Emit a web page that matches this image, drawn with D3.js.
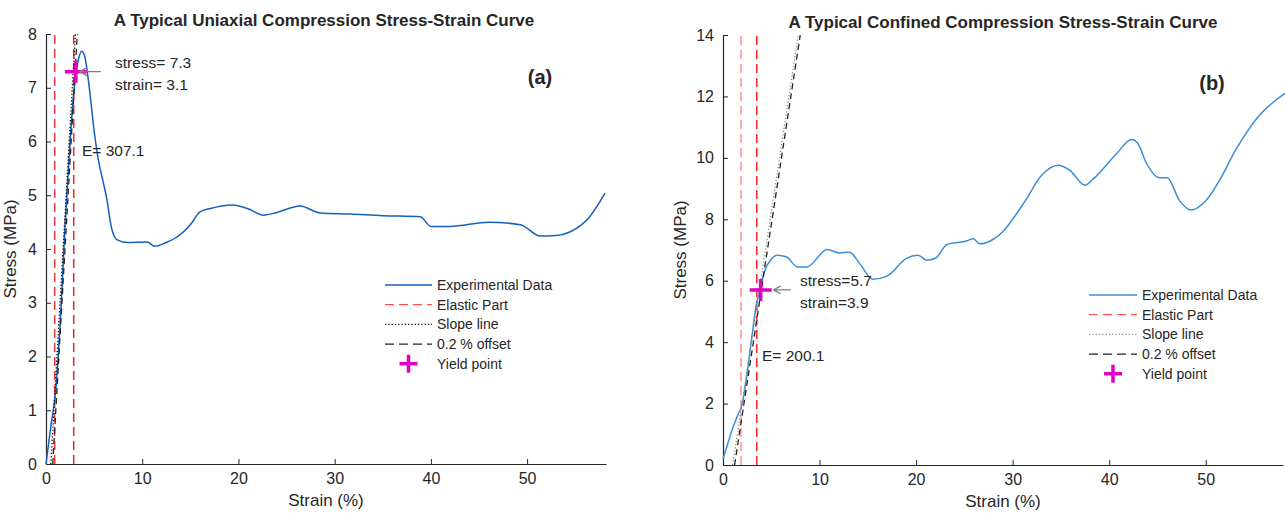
<!DOCTYPE html>
<html lang="en">
<head>
    <meta charset="UTF-8">
    <title>Stress-Strain Curves</title>
    <script src="https://cdn.jsdelivr.net/npm/d3@7"></script>
    <style>
        body { margin: 0; background: #fff; }
        text { font-family: "Liberation Sans", Arial, sans-serif; fill: #262626; }
    </style>
</head>
<body>
<script type="text/javascript">
    var width = 1285;
    var height = 514;

    // panel (a) - uniaxial
    var strainA = [0, 0.5, 1.0, 1.5, 2.0, 2.5, 3.0, 3.4, 3.7, 4.0, 4.5, 5.0, 5.5, 5.9, 6.3, 6.8, 7.4, 8.5,
        10.5, 11.3, 12.5, 13.9, 15, 16, 17, 19.4, 21, 22.6, 24, 26.4, 28.5, 31.6, 35, 38.9, 40,
        42, 46, 49.3, 51.4, 53, 54.5, 56.5, 58.1];
    var stressA = [0, 0.7, 1.35, 2.7, 4.5, 6.0, 7.1, 7.55, 7.68, 7.6, 7.0, 6.2, 5.6, 5.28, 4.95, 4.4, 4.17, 4.12,
        4.13, 4.05, 4.12, 4.26, 4.45, 4.69, 4.75, 4.82, 4.75, 4.63, 4.68, 4.8, 4.67, 4.65, 4.62, 4.6, 4.42,
        4.42, 4.5, 4.45, 4.24, 4.25, 4.32, 4.6, 5.04];
    var elasticA = [0.9, 2.88];
    var slopeA = [[0.5, 0], [3.05, 8]];
    var offsetA = [[0.7, 0], [3.25, 8]];
    var yieldA = [3.1, 7.3];

    // panel (b) - confined
    var strainB = [0, 0.5, 1.0, 1.5, 2.0, 2.5, 3.0, 3.5, 3.9, 4.3, 5.0, 5.6, 6.6, 7.7, 8.7, 10.8, 12.1, 13.1,
        14.2, 15.5, 17, 19, 20.2, 21.1, 22, 23.2, 25.3, 25.9, 26.6, 28, 29, 30, 31.3, 33, 34.7, 35.9,
        37.5, 38.3, 40.8, 42.3, 42.9, 43.9, 45.2, 46, 47.3, 48.5, 50, 51.4, 53, 55.6, 58.2];
    var stressB = [0.2, 0.7, 1.2, 1.6, 2.0, 3.0, 4.2, 5.3, 5.8, 6.3, 6.7, 6.83, 6.77, 6.45, 6.45, 7.02, 6.9, 6.93,
        6.54, 6.05, 6.15, 6.73, 6.83, 6.67, 6.73, 7.18, 7.3, 7.37, 7.2, 7.35, 7.6, 8.0, 8.6, 9.43, 9.76, 9.6,
        9.11, 9.3, 10.15, 10.6, 10.5, 9.8, 9.35, 9.35, 8.6, 8.3, 8.6, 9.25, 10.2, 11.4, 12.1];
    var elasticB = [1.86, 3.5];
    var slopeB = [[1.0, 0], [7.8, 14]];
    var offsetB = [[1.2, 0], [8.0, 14]];
    var yieldB = [3.9, 5.7];

    var legendLabels = ["Experimental Data", "Elastic Part", "Slope line", "0.2 % offset", "Yield point"];

    var svg = d3.select('body').append('svg')
            .attr('width', width)
            .attr('height', height);

    function drawPanel(p) {
        var x = d3.scaleLinear().domain(p.xDomain).range([p.left, p.right]);
        var y = d3.scaleLinear().domain(p.yDomain).range([p.bottom, p.top]);
        var g = svg.append('g');

        var xAxis = g.append('g')
                .attr('transform', 'translate(0,' + p.bottom + ')')
                .call(d3.axisBottom(x).tickValues([0, 10, 20, 30, 40, 50]).tickSizeInner(-5).tickSizeOuter(0).tickPadding(9));
        var yAxis = g.append('g')
                .attr('transform', 'translate(' + p.left + ',0)')
                .call(d3.axisLeft(y).tickValues(p.yTicks).tickSizeInner(-5).tickSizeOuter(0).tickPadding(9));
        [xAxis, yAxis].forEach(function (a) {
            a.select('.domain').attr('stroke', '#262626').attr('stroke-width', 1.2);
            a.selectAll('.tick line').attr('stroke', '#262626');
            a.selectAll('.tick text').attr('font-size', 16).attr('fill', '#262626')
                    .attr('font-family', '"Liberation Sans", Arial, sans-serif');
        });

        // elastic part
        g.selectAll('line.elastic')
                .data(p.elastic)
                .enter()
                .append('line')
                .attr('x1', function (d) { return x(d); })
                .attr('x2', function (d) { return x(d); })
                .attr('y1', y(p.yDomain[0]))
                .attr('y2', y(p.yDomain[1]))
                .attr('stroke', function (d, i) { return i === 0 ? p.red0 : '#ff2020'; })
                .attr('stroke-width', 1.5)
                .attr('stroke-dasharray', '9,5');

        var line = d3.line()
                .x(function (d) { return x(d[0]); })
                .y(function (d) { return y(d[1]); });

        var pts = p.strain.map(function (s, i) { return [s, p.stress[i]]; });
        g.append('path')
                .attr('d', line.curve(d3.curveMonotoneX)(pts))
                .attr('fill', 'none')
                .attr('stroke', p.blue)
                .attr('stroke-width', 1.5);
        line.curve(d3.curveLinear);

        g.append('path')
                .attr('d', line(p.offset))
                .attr('fill', 'none')
                .attr('stroke', '#222')
                .attr('stroke-width', 1.3)
                .attr('stroke-dasharray', '6,4');
        g.append('path')
                .attr('d', line(p.slope))
                .attr('fill', 'none')
                .attr('stroke', p.slopeColor)
                .attr('stroke-width', 1.3)
                .attr('stroke-dasharray', '1.3,2');

        // yield point
        var yx = x(p.yieldPt[0]), yy = y(p.yieldPt[1]);
        g.append('path')
                .attr('d', 'M' + (yx - 11) + ',' + yy + 'H' + (yx + 11) + 'M' + yx + ',' + (yy - 11) + 'V' + (yy + 11))
                .attr('stroke', '#e100c4')
                .attr('stroke-width', 3.5);

        // arrow
        var ax0 = yx + p.arrow[0], ax1 = yx + p.arrow[1];
        g.append('path')
                .attr('d', 'M' + ax1 + ',' + yy + 'H' + ax0 + 'M' + (ax0 + 7) + ',' + (yy - 4) + 'L' + ax0 + ',' + yy + 'L' + (ax0 + 7) + ',' + (yy + 4))
                .attr('fill', 'none')
                .attr('stroke', '#808080')
                .attr('stroke-width', 1.3);

        g.append('text')
                .attr('x', p.annX).attr('y', yy - 4)
                .attr('font-size', 15.5)
                .text(p.stressText);
        g.append('text')
                .attr('x', p.annX).attr('y', yy + 18)
                .attr('font-size', 15.5)
                .text(p.strainText);
        g.append('text')
                .attr('x', p.eX).attr('y', p.eY)
                .attr('font-size', 15.5)
                .text(p.eText);

        // titles & labels
        g.append('text')
                .attr('x', p.titleX).attr('y', p.titleY)
                .attr('text-anchor', 'middle')
                .attr('font-size', 17)
                .attr('font-weight', 'bold')
                .attr('fill', '#000')
                .text(p.title);
        g.append('text')
                .attr('x', p.tagX).attr('y', p.tagY)
                .attr('text-anchor', 'middle')
                .attr('font-size', 20)
                .attr('font-weight', 'bold')
                .attr('fill', '#000')
                .text(p.tag);
        g.append('text')
                .attr('x', (p.left + p.right) / 2).attr('y', p.bottom + 42)
                .attr('text-anchor', 'middle')
                .attr('font-size', 17)
                .text('Strain (%)');
        g.append('text')
                .attr('transform', 'translate(' + (p.left - p.yLabOff) + ',' + ((p.top + p.bottom) / 2) + ') rotate(-90)')
                .attr('text-anchor', 'middle')
                .attr('font-size', 17)
                .text('Stress (MPa)');

        // legend
        var lg = g.append('g').attr('transform', 'translate(' + p.legX + ',' + p.legY + ')');
        var rows = lg.selectAll('g')
                .data(legendLabels)
                .enter()
                .append('g')
                .attr('transform', function (d, i) { return 'translate(0,' + (i * 19.7) + ')'; });
        rows.append('text')
                .attr('x', p.legW + 5)
                .attr('y', 5)
                .attr('font-size', 14)
                .text(function (d) { return d; });
        var styles = [
            {c: p.blue, dash: null, w: 1.5},
            {c: '#ff5050', dash: '9,5', w: 1.3},
            {c: p.slopeColor, dash: '1.3,2', w: 1.2},
            {c: '#222', dash: '9,5', w: 1.3}
        ];
        rows.filter(function (d, i) { return i < 4; })
                .append('line')
                .attr('x1', 0).attr('x2', p.legW)
                .attr('y1', 0).attr('y2', 0)
                .attr('stroke', function (d, i) { return styles[i].c; })
                .attr('stroke-width', function (d, i) { return styles[i].w; })
                .attr('stroke-dasharray', function (d, i) { return styles[i].dash; });
        rows.filter(function (d, i) { return i === 4; })
                .append('path')
                .attr('d', 'M' + (p.legW / 2 - 9) + ',0H' + (p.legW / 2 + 9) + 'M' + (p.legW / 2) + ',-9V9')
                .attr('stroke', '#e100c4')
                .attr('stroke-width', 3.5);
    }

    drawPanel({
        left: 46, right: 606, top: 34, bottom: 464,
        xDomain: [0, 58.2], yDomain: [0, 8], yTicks: [0, 1, 2, 3, 4, 5, 6, 7, 8],
        strain: strainA, stress: stressA, elastic: elasticA, slope: slopeA, offset: offsetA, yieldPt: yieldA,
        blue: '#1460c0', slopeColor: '#111', red0: '#ff3030',
        arrow: [4, 25], annX: 115, stressText: 'stress= 7.3', strainText: 'strain= 3.1',
        eX: 82, eY: 156, eText: 'E= 307.1',
        title: 'A Typical Uniaxial Compression Stress-Strain Curve', titleX: 324, titleY: 26,
        tag: '(a)', tagX: 540, tagY: 84, yLabOff: 30,
        legX: 385, legY: 285, legW: 47
    });

    drawPanel({
        left: 723, right: 1283, top: 35, bottom: 465,
        xDomain: [0, 58], yDomain: [0, 14], yTicks: [0, 2, 4, 6, 8, 10, 12, 14],
        strain: strainB, stress: stressB, elastic: elasticB, slope: slopeB, offset: offsetB, yieldPt: yieldB,
        blue: '#3b8ed6', slopeColor: '#909090', red0: '#ff9090',
        arrow: [13, 30], annX: 800, stressText: 'stress=5.7', strainText: 'strain=3.9',
        eX: 762, eY: 361, eText: 'E= 200.1',
        title: 'A Typical Confined Compression Stress-Strain Curve', titleX: 1003, titleY: 28,
        tag: '(b)', tagX: 1212, tagY: 90, yLabOff: 37,
        legX: 1089, legY: 295, legW: 48
    });
</script>
</body>
</html>
